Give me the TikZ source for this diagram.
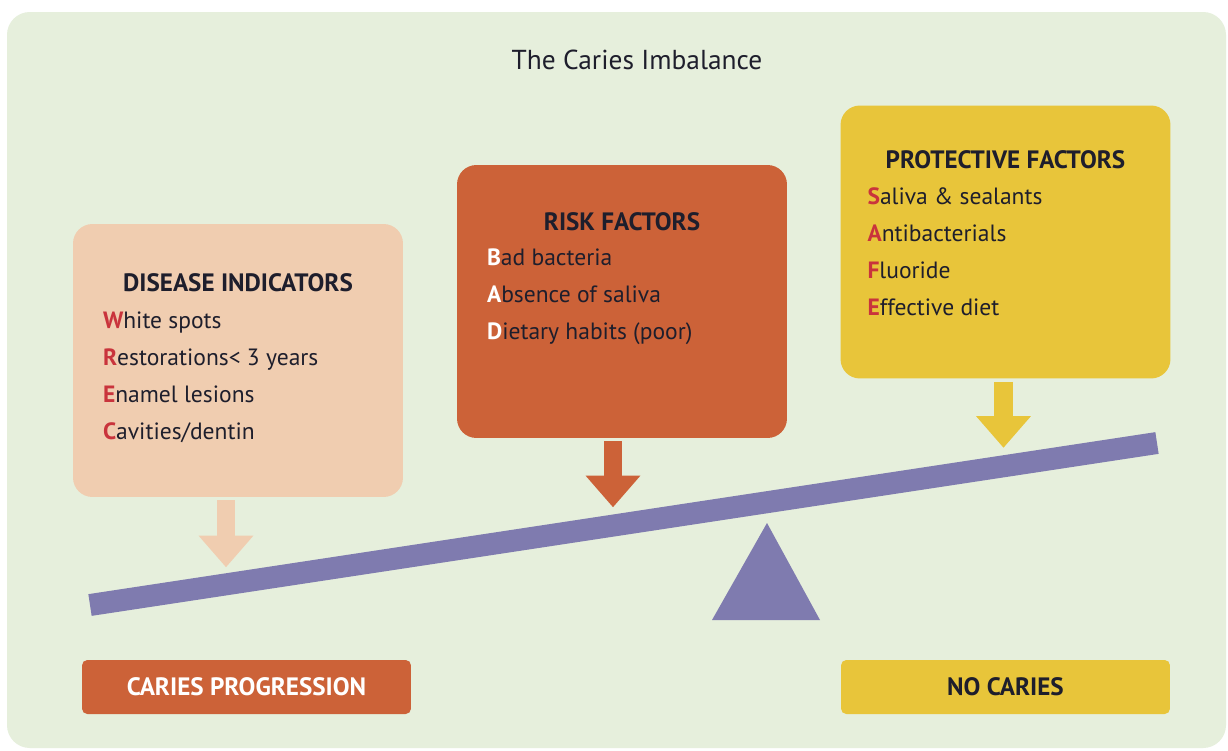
\documentclass[tikz,border=0pt]{standalone}
\usepackage{fontspec}
\setmainfont{PT Sans}
\usetikzlibrary{arrows.meta, calc}

\definecolor{PanelGreen}{HTML}{E6EFDC}
\definecolor{IndicatorPeach}{HTML}{F0CDB0}
\definecolor{RiskRust}{HTML}{CC6238}
\definecolor{ProtectYellow}{HTML}{E8C53A}
\definecolor{BalancePurple}{HTML}{7F7BAF}
\definecolor{InitialRed}{HTML}{C9343C}
\definecolor{InkDark}{HTML}{1E1E2C}

\newcommand{\firstletter}[2]{\textcolor{#1}{\textbf{#2}}}

\tikzset{
  factorbox/.style={rounded corners=11pt, minimum width=6.6cm, minimum height=5.46cm, inner sep=0pt},
  outcomebox/.style={rounded corners=3pt, minimum width=6.58cm, minimum height=1.08cm,
    font=\fontsize{14.3}{17}\selectfont\bfseries},
  heading/.style={font=\fontsize{14.3}{17}\selectfont\bfseries, text=InkDark},
  factorlist/.style={anchor=north west, inner sep=0pt, align=left, text=InkDark,
    font=\fontsize{13.4}{21}\selectfont},
  pusharrow/.style={line width=10.8pt, -{Triangle[width=30pt, length=18pt]}},
  beam/.style={line width=12.5pt, BalancePurple}
}

\begin{document}
\begin{tikzpicture}[x=0.02cm, y=-0.02cm]

\useasboundingbox (0,0) rectangle (1228,751);
\fill[white] (0,0) rectangle (1228,751);
\fill[PanelGreen, rounded corners=13pt] (7,12) rectangle (1226,748);

\node[font=\fontsize{15.6}{19}\selectfont, text=InkDark] (title) at (637,60) {The Caries Imbalance};

% three groups of factors
\node[factorbox, fill=IndicatorPeach] (indicators) at (238,360.5) {};
\node[factorbox, fill=RiskRust] (risk) at (622,301.5) {};
\node[factorbox, fill=ProtectYellow] (protect) at (1005.5,242) {};

\node[heading] (indicatorshead) at ($(indicators.north)+(0,59)$) {DISEASE INDICATORS};
\node[factorlist] (indicatorslist) at ($(indicators.north west)+(30,88)$)
  {\firstletter{InitialRed}{W}hite spots\\
   \firstletter{InitialRed}{R}estorations< 3 years\\
   \firstletter{InitialRed}{E}namel lesions\\
   \firstletter{InitialRed}{C}avities/dentin};

\node[heading] (riskhead) at ($(risk.north)+(0,57)$) {RISK FACTORS};
\node[factorlist] (risklist) at ($(risk.north west)+(30,84)$)
  {\firstletter{white}{B}ad bacteria\\
   \firstletter{white}{A}bsence of saliva\\
   \firstletter{white}{D}ietary habits (poor)};

\node[heading] (protecthead) at ($(protect.north)+(0,55)$) {PROTECTIVE FACTORS};
\node[factorlist] (protectlist) at ($(protect.north west)+(27,82)$)
  {\firstletter{InitialRed}{S}aliva \& sealants\\
   \firstletter{InitialRed}{A}ntibacterials\\
   \firstletter{InitialRed}{F}luoride\\
   \firstletter{InitialRed}{E}ffective diet};

% the balance
\coordinate (beamleft) at (90,605);
\coordinate (beamright) at (1157,443);
\draw[beam] (beamleft) -- (beamright);
\fill[BalancePurple] (767,523) -- (820,620) -- (712,620) -- cycle;

\coordinate (indicatorstip) at ($(indicators.south)+(-12,70)$);
\coordinate (risktip) at ($(risk.south)+(-9,69)$);
\coordinate (protecttip) at ($(protect.south)+(-2,69)$);
\draw[pusharrow, IndicatorPeach] ($(indicators.south)+(-12,3)$) -- (indicatorstip);
\draw[pusharrow, RiskRust] ($(risk.south)+(-9,3)$) -- (risktip);
\draw[pusharrow, ProtectYellow] ($(protect.south)+(-2,3)$) -- (protecttip);

% outcomes
\node[outcomebox, fill=RiskRust, text=white] (progression) at (246.5,687) {CARIES PROGRESSION};
\node[outcomebox, fill=ProtectYellow, text=InkDark] (nocaries) at (1005.5,687) {NO CARIES};

\end{tikzpicture}
\end{document}
